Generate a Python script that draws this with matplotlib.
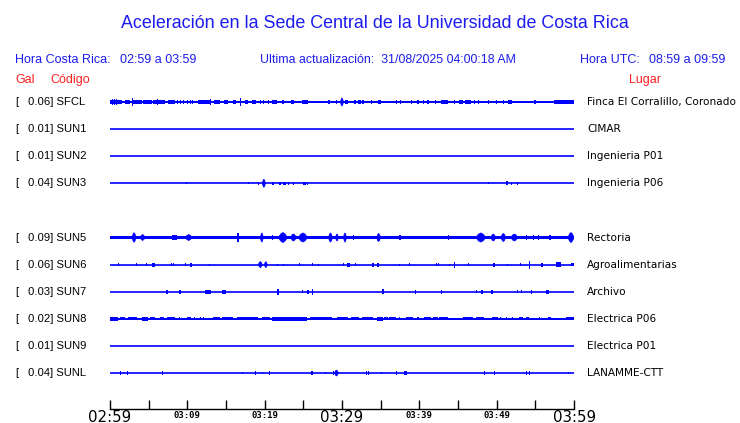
import matplotlib
matplotlib.use("Agg")
import matplotlib.pyplot as plt
from matplotlib import transforms

# station data
stations = ["SFCL", "SUN1", "SUN2", "SUN3", "SUN5", "SUN6", "SUN7", "SUN8", "SUN9", "SUNL"]
gal = [0.06, 0.01, 0.01, 0.04, 0.09, 0.06, 0.03, 0.02, 0.01, 0.04]
places = ["Finca El Corralillo, Coronado", "CIMAR", "Ingenieria P01", "Ingenieria P06",
          "Rectoria", "Agroalimentarias", "Archivo", "Electrica P06", "Electrica P01",
          "LANAMME-CTT"]
rows = [0, 1, 2, 3, 5, 6, 7, 8, 9, 10]
# half width of the steady noise band (relative units)
noise = [0.03, 0, 0, 0, 0.06, 0, 0, 0.035, 0, 0]

tick_min = [0, 10, 20, 30, 40, 50, 60]
tick_lab = ["02:59", "03:09", "03:19", "03:29", "03:39", "03:49", "03:59"]

# bursts: (start minute, end minute, half amplitude), minutes after 02:59
sfcl = [(0.0, 1.55, 0.08), (0.26, 0.36, 0.11), (0.52, 0.62, 0.11), (0.78, 0.88, 0.11),
        (1.94, 2.59, 0.075), (2.85, 2.97, 0.13), (2.85, 4.15, 0.075), (4.28, 5.44, 0.075),
        (5.57, 7.13, 0.075), (6.09, 6.2, 0.11), (7.52, 8.42, 0.075), (8.68, 8.8, 0.06),
        (9.07, 9.2, 0.06), (9.46, 9.58, 0.06), (9.98, 10.1, 0.06), (10.37, 10.5, 0.075),
        (10.63, 10.75, 0.06), (11.40, 13.09, 0.075), (12.96, 13.09, 0.11), (13.48, 14.25, 0.075),
        (14.77, 15.29, 0.075), (15.94, 16.33, 0.075), (16.85, 16.97, 0.13), (17.49, 17.88, 0.075),
        (18.40, 18.92, 0.09), (19.44, 19.56, 0.075), (19.83, 19.96, 0.075), (20.47, 20.6, 0.06),
        (20.99, 21.64, 0.075), (22.29, 22.55, 0.09), (23.45, 23.6, 0.09), (23.71, 23.84, 0.06),
        (24.88, 25.66, 0.075), (26.30, 26.95, 0.05), (28.25, 28.4, 0.075), (29.16, 29.3, 0.06),
        (29.80, 30.19, 0.15), (30.45, 30.84, 0.075), (31.49, 31.75, 0.09), (32.01, 32.40, 0.075),
        (32.65, 32.8, 0.06), (33.69, 33.82, 0.06), (34.60, 34.99, 0.075), (36.93, 37.05, 0.075),
        (37.45, 37.58, 0.06), (38.87, 39.0, 0.075), (39.65, 39.91, 0.075), (40.43, 40.56, 0.06),
        (40.95, 41.21, 0.075), (41.98, 42.11, 0.06), (42.76, 43.67, 0.075), (44.45, 44.58, 0.06),
        (45.09, 45.61, 0.075), (45.87, 46.65, 0.075), (47.04, 47.17, 0.075), (47.56, 47.7, 0.06),
        (48.85, 48.98, 0.06), (49.89, 50.02, 0.06), (50.80, 50.93, 0.075), (51.44, 51.96, 0.075),
        (54.81, 55.07, 0.075), (57.40, 60.0, 0.075)]
sun3 = [(9.85, 9.97, 0.04), (17.88, 18.0, 0.04), (19.18, 19.3, 0.05), (19.70, 20.1, 0.15),
        (20.99, 21.2, 0.06), (21.90, 22.1, 0.06), (22.42, 22.8, 0.06), (23.07, 23.2, 0.06),
        (23.71, 23.84, 0.05), (25.01, 25.3, 0.06), (25.53, 25.66, 0.05), (48.85, 48.98, 0.04),
        (51.18, 51.44, 0.07), (51.83, 51.96, 0.06), (52.61, 52.74, 0.06)]
sun5 = [(2.85, 3.37, 0.18), (3.89, 4.54, 0.11), (8.03, 8.68, 0.08), (9.72, 10.63, 0.11),
        (16.46, 16.72, 0.17), (19.44, 19.83, 0.17), (20.99, 21.12, 0.11), (21.77, 22.94, 0.185),
        (23.33, 24.10, 0.13), (24.36, 25.53, 0.17), (28.25, 28.77, 0.17), (29.16, 29.54, 0.13),
        (30.19, 30.58, 0.17), (31.36, 31.49, 0.09), (32.65, 32.78, 0.07), (33.30, 33.43, 0.07),
        (33.95, 34.08, 0.07), (34.47, 34.99, 0.15), (36.54, 36.67, 0.07), (37.32, 37.58, 0.09),
        (37.97, 38.1, 0.07), (39.0, 39.13, 0.07), (39.65, 39.78, 0.07), (41.47, 41.6, 0.07),
        (43.67, 43.8, 0.075), (47.30, 48.59, 0.17), (49.24, 49.89, 0.13), (50.54, 51.18, 0.15),
        (51.83, 52.74, 0.13), (53.78, 53.9, 0.08), (54.68, 54.81, 0.08), (55.33, 55.46, 0.08),
        (56.76, 57.01, 0.08), (59.22, 60.0, 0.185)]
sun6 = [(1.04, 1.17, 0.07), (3.37, 3.5, 0.06), (4.66, 4.79, 0.06), (5.44, 5.83, 0.075),
        (7.90, 8.03, 0.06), (8.16, 8.29, 0.06), (9.72, 9.85, 0.06), (10.37, 10.6, 0.075),
        (12.83, 12.96, 0.04), (19.18, 19.70, 0.11), (19.96, 20.34, 0.11), (21.64, 21.77, 0.04),
        (22.42, 22.55, 0.04), (24.49, 24.62, 0.06), (26.17, 26.3, 0.06), (26.95, 27.08, 0.04),
        (30.19, 30.32, 0.06), (30.71, 30.97, 0.075), (31.62, 31.75, 0.06), (33.82, 34.08, 0.075),
        (34.47, 34.73, 0.075), (37.32, 37.45, 0.04), (38.62, 38.75, 0.06), (42.11, 42.24, 0.06),
        (42.37, 42.5, 0.06), (43.80, 43.93, 0.04), (44.45, 44.58, 0.11), (46.26, 46.39, 0.06),
        (49.50, 49.76, 0.075), (51.31, 51.44, 0.04), (53.0, 53.13, 0.06), (54.16, 54.29, 0.15),
        (55.72, 55.98, 0.075), (57.66, 58.31, 0.09), (59.61, 60.0, 0.06)]
sun7 = [(7.26, 7.52, 0.075), (8.94, 9.2, 0.075), (12.31, 13.09, 0.075), (14.51, 15.03, 0.075),
        (21.64, 21.9, 0.11), (24.88, 25.01, 0.06), (25.53, 25.79, 0.075), (26.17, 26.3, 0.11),
        (35.12, 35.38, 0.09), (39.39, 39.52, 0.075), (42.76, 42.89, 0.075), (47.30, 47.43, 0.06),
        (47.95, 48.2, 0.075), (49.24, 49.5, 0.075), (52.61, 52.74, 0.06), (53.13, 53.26, 0.06),
        (54.42, 54.55, 0.075), (56.37, 56.76, 0.075)]
sun8 = [(0, 1.04, 0.07), (1.30, 1.94, 0.06), (2.33, 3.50, 0.06), (4.15, 4.92, 0.07),
        (5.18, 5.83, 0.06), (6.48, 7.0, 0.06), (7.39, 8.42, 0.06), (8.94, 9.07, 0.06),
        (9.98, 10.5, 0.06), (10.88, 11.0, 0.05), (11.66, 11.8, 0.05), (12.05, 12.18, 0.05),
        (13.35, 14.25, 0.06), (14.51, 15.94, 0.06), (16.46, 19.18, 0.06), (19.70, 20.73, 0.06),
        (20.99, 25.53, 0.07), (25.92, 28.77, 0.06), (29.41, 30.19, 0.06), (30.19, 30.84, 0.05),
        (31.10, 32.14, 0.06), (32.65, 33.95, 0.06), (34.47, 35.25, 0.07), (35.38, 35.89, 0.05),
        (36.02, 36.93, 0.06), (37.32, 37.45, 0.05), (38.23, 39.13, 0.06), (39.65, 39.91, 0.05),
        (40.56, 41.47, 0.06), (41.72, 42.37, 0.05), (42.50, 43.67, 0.05), (45.61, 46.91, 0.05),
        (47.30, 48.33, 0.06), (49.37, 50.15, 0.06), (50.41, 50.54, 0.05), (51.18, 51.31, 0.05),
        (51.96, 52.09, 0.05), (52.87, 53.39, 0.06), (53.78, 54.16, 0.05), (55.46, 55.6, 0.05),
        (56.63, 57.01, 0.06), (58.05, 58.18, 0.04), (59.0, 60.0, 0.06)]
sunl = [(1.30, 1.43, 0.06), (1.68, 1.8, 0.04), (2.20, 2.33, 0.06), (6.74, 6.87, 0.06),
        (17.10, 17.23, 0.04), (18.79, 18.92, 0.075), (19.70, 19.83, 0.04), (20.60, 20.73, 0.06),
        (26.05, 26.3, 0.075), (27.86, 27.99, 0.04), (28.90, 29.03, 0.06), (29.03, 29.54, 0.11),
        (33.04, 33.17, 0.075), (33.30, 33.43, 0.075), (34.99, 35.12, 0.04), (36.93, 37.06, 0.075),
        (37.97, 38.36, 0.075), (48.33, 48.46, 0.075), (49.63, 49.76, 0.075), (53.78, 53.91, 0.06),
        (54.16, 54.29, 0.075), (59.22, 59.35, 0.04)]
bursts = [sfcl, [], [], sun3, sun5, sun6, sun7, sun8, [], sunl]

BLUE = "#0000ff"
TBLUE = "#1c1cf0"
RED = "#ff2020"
W, H = 740, 423

fig = plt.figure(figsize=(W / 100, H / 100), dpi=100)

# overlay in pixel coordinates for the header texts
ov = fig.add_axes([0, 0, 1, 1])
ov.set_xlim(0, W)
ov.set_ylim(H, 0)
ov.axis("off")

# trace axes: minutes on x, station rows on y
ax = fig.add_axes([110 / W, (H - 386.55) / H, 464 / W, 298.1 / H])
ax.set_xlim(0, 60)
ax.set_ylim(10.5, -0.5)
ax.axis("off")

for r, nb, ev in zip(rows, noise, bursts):
    ax.plot([0, 60], [r, r], color=BLUE, lw=1.2, solid_capstyle="butt")
    if nb:
        ax.bar([0], [2 * nb], width=60, bottom=r - nb, align="edge", color=BLUE, lw=0)
    for t0, t1, a in ev:
        if a >= 0.11 and t1 - t0 > 0.3:
            # spindle shaped burst
            d = (t1 - t0) / 4
            xs = [t0, t0 + d, t0 + 2 * d, t1 - d, t1, t1 - d, t0 + 2 * d, t0 + d]
            ys = [r, r - a * 0.7, r - a, r - a * 0.7, r, r + a * 0.7, r + a, r + a * 0.7]
            ax.fill(xs, ys, color=BLUE, lw=0.5)
        else:
            ax.bar([t0], [2 * a], width=max(t1 - t0, 0.13), bottom=r - a,
                   align="edge", color=BLUE, lw=0)

# labels left and right of each trace
tr = transforms.blended_transform_factory(ov.transData, ax.transData)
lab = dict(fontsize=8.1, family="Liberation Sans", va="center", color="black")
for r, s, g, p in zip(rows, stations, gal, places):
    ax.text(15, r, "[", transform=tr, **lab)
    ax.text(28, r, f"{g:.2f}] {s}", transform=tr, **lab)
    ax.text(587, r, p, transform=tr, fontsize=7.55, family="DejaVu Sans", va="center")

# time axis
axt = fig.add_axes([110 / W, (H - 409) / H, 464 / W, 0.0001])
axt.set_xlim(0, 60)
axt.set_yticks([])
for sp in ["top", "left", "right"]:
    axt.spines[sp].set_visible(False)
axt.spines["bottom"].set_linewidth(1.0)
axt.set_xticks(tick_min)
axt.set_xticks([5, 15, 25, 35, 45, 55], minor=True)
axt.tick_params(which="both", direction="in", length=6.5, width=1, labelbottom=False)
tt = transforms.blended_transform_factory(axt.transData, ov.transData)
for t, l in zip(tick_min, tick_lab):
    if t % 30 == 0:
        axt.text(t, 421.5, l, transform=tt, ha="center", va="baseline",
                 fontsize=10.8, family="DejaVu Sans")
    else:
        axt.text(t, 418.5, l, transform=tt, ha="center", va="baseline",
                 fontsize=6.5, fontweight="bold", family="DejaVu Sans Mono")

# header
hd = dict(family="Liberation Sans", color=TBLUE, va="center")
ov.text(375, 23, "Aceleración en la Sede Central de la Universidad de Costa Rica",
        ha="center", fontsize=12.9, **hd)
ov.text(15, 60, "Hora Costa Rica:", fontsize=9, **hd)
ov.text(120, 60, "02:59 a 03:59", fontsize=9, **hd)
ov.text(260, 60, "Ultima actualización:  31/08/2025 04:00:18 AM", fontsize=8.9, **hd)
ov.text(580, 60, "Hora UTC:", fontsize=9, **hd)
ov.text(725, 60, "08:59 a 09:59", fontsize=9, ha="right", family="Liberation Sans",
        color=TBLUE, va="center")
rd = dict(family="Liberation Sans", color=RED, va="center", fontsize=9)
ov.text(15, 80, "Gal", **rd)
ov.text(50, 80, "Código", **rd)
ov.text(629, 80, "Lugar", **rd)

fig.savefig("out.png", dpi=100)
